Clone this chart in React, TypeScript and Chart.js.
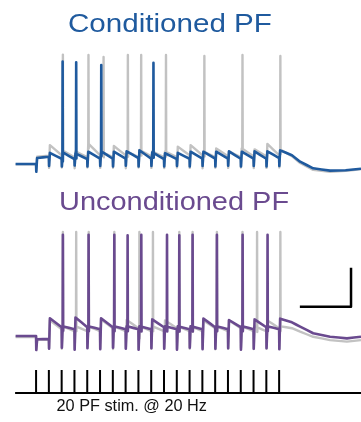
import React, { useEffect, useRef } from "react";
import { Chart, registerables } from "chart.js";

Chart.register(...registerables);

// ---- time base (ms) ----
const stimTimes = [0, 50, 100, 150, 200, 250, 300, 350, 400, 450, 500, 550, 600, 650, 700, 750, 800, 850, 900, 950];
const traceStart = -80;

// ---- Conditioned PF (blue) , mV ----
const condBaseline = -65;
const condDips = [-69.0, -66.0, -66.2, -65.8, -66.3, -66.0, -66.2, -65.9, -66.3, -66.0, -66.2, -66.0, -66.3, -66.0, -66.2, -65.9, -66.2, -66.0, -66.3, -66.0];
const condPeaks = [-61.9, -59.3, -59.0, -59.5, -58.7, -58.5, -58.7, -58.5, -58.0, -59.0, -59.5, -59.3, -58.7, -58.7, -58.7, -58.5, -58.7, -58.5, -58.5, -58.0];
const condTroughs = [-61.3, -62.3, -62.5, -62.5, -62.3, -62.3, -62.3, -62.0, -62.3, -62.5, -62.5, -62.3, -62.3, -62.3, -62.3, -62.3, -62.3, -62.3, -62.0];
const condSpikeTimes = [103, 156, 254, 458];
const condSpikePeaks = [-12.5, -12.8, -14.2, -13.1];
const condTailTimes = [1000, 1032, 1083, 1149, 1210, 1270];
const condTailValues = [-60.5, -63.8, -67.2, -68.4, -68.2, -67.4];

// ---- Conditioned PF (grey, control) ----
const condCtlBaseline = -65.2;
const condCtlDips = [-68.5, -67.0, -66.8, -67.2, -66.8, -67.0, -66.9, -67.2, -66.8, -67.0, -67.1, -66.8, -67.0, -67.2, -66.9, -67.0, -66.8, -67.1, -67.0, -66.8];
const condCtlPeaks = [-61.3, -55.3, -58.0, -58.5, -54.5, -58.5, -55.8, -58.5, -57.8, -58.5, -58.5, -56.1, -55.3, -58.5, -57.0, -58.5, -57.0, -57.5, -54.7, -57.5];
const condCtlTroughs = [-60.8, -60.5, -61.5, -61.5, -60.5, -61.5, -60.5, -61.5, -61.0, -61.5, -61.5, -60.5, -60.5, -61.5, -61.0, -61.5, -61.0, -61.0, -60.5];
const condCtlSpikeTimes = [104, 204, 263, 358, 410, 507, 657, 806, 954];
const condCtlSpikePeaks = [-8.9, -9.1, -10.1, -9.1, -9.1, -9.1, -9.6, -9.1, -9.6];
const condCtlTailTimes = [1000, 1032, 1083, 1149, 1210, 1270];
const condCtlTailValues = [-61.0, -64.5, -68.0, -69.0, -68.5, -67.6];

// ---- Unconditioned PF (purple) ----
const uncBaseline = -65.5;
const uncDips = [-72.7, -72.0, -71.5, -72.5, -71.8, -72.3, -71.5, -72.0, -72.5, -71.8, -72.0, -72.5, -71.5, -72.3, -72.0, -71.8, -72.5, -72.0, -71.8, -72.3];
const uncPeaks = [-67.2, -56.4, -60.5, -56.0, -60.5, -56.4, -60.5, -60.5, -60.5, -57.0, -60.5, -60.5, -60.5, -56.5, -60.5, -57.3, -60.5, -57.0, -60.5, -56.6];
const uncTroughs = [-67.0, -61.0, -62.0, -61.0, -62.0, -61.0, -62.0, -62.0, -62.0, -61.0, -62.0, -62.0, -62.0, -61.0, -62.0, -61.0, -62.0, -61.0, -62.0];
const uncSpikeTimes = [104, 204.5, 305, 357, 410.5, 511, 559, 611, 706, 806.5, 904];
const uncSpikePeaks = [-13.6, -13.6, -13.6, -13.8, -13.6, -13.6, -13.8, -13.6, -13.6, -13.6, -13.6];
const uncTailTimes = [1000, 1032, 1083, 1149, 1215, 1270];
const uncTailValues = [-58.5, -60.7, -64.1, -65.9, -66.7, -65.9];

// ---- Unconditioned PF (grey, control) ----
const uncCtlBaseline = -66.0;
const uncCtlDips = [-72.5, -71.8, -72.0, -72.3, -71.6, -72.0, -72.2, -71.8, -72.3, -72.0, -71.7, -72.2, -72.0, -71.8, -72.3, -72.0, -71.7, -72.2, -72.0, -72.1];
const uncCtlPeaks = [-67.5, -57.5, -60.5, -60.5, -60.5, -57.0, -60.5, -57.3, -60.5, -60.5, -57.5, -60.5, -60.5, -57.5, -60.5, -57.5, -60.5, -60.5, -57.5, -60.5];
const uncCtlTroughs = [-67.5, -62.0, -63.0, -63.0, -63.0, -61.5, -63.0, -61.5, -63.0, -63.0, -61.5, -63.0, -63.0, -61.5, -63.0, -61.5, -63.0, -63.0, -61.5];
const uncCtlSpikeTimes = [104, 156, 205, 305, 403, 456, 559, 611, 706, 806, 863, 954];
const uncCtlSpikePeaks = [-12.2, -12.2, -12.2, -12.2, -12.2, -12.2, -12.2, -12.2, -12.2, -12.2, -12.2, -12.2];
const uncCtlTailTimes = [1000, 1032, 1083, 1149, 1215, 1270];
const uncCtlTailValues = [-61.5, -63.3, -65.9, -67.6, -68.4, -67.6];

// ---- scale bar (200 ms, 20 mV) ----
const scaleBarTimeStart = 1031;
const scaleBarTimeLength = 200;
const scaleBarBase = -50.5;
const scaleBarMv = 20;

// ---- stimulus raster ----
const stimAxisStart = -82;
const stimAxisEnd = 1270;

const BLUE = "#1f5a9e";
const PURPLE = "#6a4a8f";
const GREY = "#c2c2c2";

type P = { x: number; y: number | null };

function buildTrace(
  baseline: number,
  dips: number[],
  peaks: number[],
  troughs: number[],
  spikeT: number[],
  spikeV: number[],
  tailT: number[],
  tailV: number[]
): P[] {
  let pts: { x: number; y: number }[] = [{ x: traceStart, y: baseline }];
  stimTimes.forEach((s, i) => {
    const prev = i === 0 ? baseline : troughs[i - 1];
    pts.push({ x: s, y: prev });
    pts.push({ x: s + 0.8, y: dips[i] });
    pts.push({ x: s + 4, y: peaks[i] });
  });
  tailT.forEach((t, i) => pts.push({ x: t, y: tailV[i] }));

  const valueAt = (arr: { x: number; y: number }[], t: number) => {
    for (let k = 0; k < arr.length - 1; k++) {
      if (arr[k].x <= t && arr[k + 1].x >= t) {
        const a = arr[k], b = arr[k + 1];
        const f = b.x === a.x ? 0 : (t - a.x) / (b.x - a.x);
        return a.y + f * (b.y - a.y);
      }
    }
    return arr[arr.length - 1].y;
  };

  const extra: { x: number; y: number }[] = [];
  spikeT.forEach((ts, i) => {
    const foot = valueAt(pts, ts);
    const after = valueAt(pts, ts + 2.2);
    extra.push({ x: ts, y: foot });
    extra.push({ x: ts + 0.8, y: spikeV[i] });
    extra.push({ x: ts + 1.7, y: foot - 2.5 });
    extra.push({ x: ts + 2.2, y: after });
  });
  const base = pts.filter((p) => !spikeT.some((ts) => p.x >= ts && p.x <= ts + 2.2));
  return base.concat(extra).sort((a, b) => a.x - b.x);
}

function buildStimTicks(): P[] {
  const out: P[] = [];
  stimTimes.forEach((s) => {
    out.push({ x: s, y: 0 });
    out.push({ x: s, y: 1 });
    out.push({ x: s + 0.01, y: null });
  });
  return out;
}

const W = 361;
const H = 422;

export default function App() {
  const ref = useRef<HTMLCanvasElement | null>(null);

  useEffect(() => {
    if (!ref.current) return;
    const line = (data: P[], color: string, axis: string, width: number, order: number) => ({
      data,
      borderColor: color,
      backgroundColor: color,
      borderWidth: width,
      pointRadius: 0,
      tension: 0.0001,
      fill: false,
      spanGaps: false,
      borderJoinStyle: "round" as const,
      borderCapStyle: "butt" as const,
      yAxisID: axis,
      order,
    });

    const chart = new Chart(ref.current, {
      type: "line",
      data: {
        datasets: [
          line(buildTrace(condBaseline, condDips, condPeaks, condTroughs, condSpikeTimes, condSpikePeaks, condTailTimes, condTailValues), BLUE, "yC", 2.6, 0),
          line(buildTrace(uncBaseline, uncDips, uncPeaks, uncTroughs, uncSpikeTimes, uncSpikePeaks, uncTailTimes, uncTailValues), PURPLE, "yU", 2.6, 0),
          line(buildTrace(condCtlBaseline, condCtlDips, condCtlPeaks, condCtlTroughs, condCtlSpikeTimes, condCtlSpikePeaks, condCtlTailTimes, condCtlTailValues), GREY, "yC", 2.4, 1),
          line(buildTrace(uncCtlBaseline, uncCtlDips, uncCtlPeaks, uncCtlTroughs, uncCtlSpikeTimes, uncCtlSpikePeaks, uncCtlTailTimes, uncCtlTailValues), GREY, "yU", 2.4, 1),
          line(
            [
              { x: scaleBarTimeStart, y: scaleBarBase },
              { x: scaleBarTimeStart + scaleBarTimeLength, y: scaleBarBase },
              { x: scaleBarTimeStart + scaleBarTimeLength, y: scaleBarBase + scaleBarMv },
            ],
            "#000000",
            "yU",
            2.5,
            0
          ),
          line(buildStimTicks(), "#000000", "yS", 2, 0),
          line(
            [
              { x: stimAxisStart, y: 0 },
              { x: stimAxisEnd, y: 0 },
            ],
            "#000000",
            "yS",
            2,
            0
          ),
        ],
      },
      options: {
        responsive: false,
        animation: false,
        devicePixelRatio: 1,
        parsing: false,
        layout: { padding: 0, autoPadding: false },
        plugins: { legend: { display: false }, tooltip: { enabled: false }, title: { display: false } },
        events: [],
        scales: {
          x: { type: "linear", min: -141, max: 1270, display: false },
          yC: { type: "linear", min: -197.3, max: 19.1, display: false },
          yU: { type: "linear", min: -109.6, max: 106.8, display: false },
          yS: { type: "linear", min: -1.261, max: 17.087, display: false },
        },
      } as any,
    });
    return () => chart.destroy();
  }, []);

  const font = '"Liberation Sans", Arial, Helvetica, sans-serif';
  return (
    <div style={{ position: "fixed", left: 0, top: 0, width: W, height: H, background: "#fff", overflow: "hidden" }}>
      <canvas ref={ref} width={W} height={H} style={{ position: "absolute", left: 0, top: 0, width: W, height: H, display: "block" }} />
      <div
        style={{
          position: "absolute", left: 68, top: 10.7, fontFamily: font, fontSize: 25.5, lineHeight: "25.5px",
          color: BLUE, whiteSpace: "nowrap", transform: "scaleX(1.16)", transformOrigin: "0 0",
        }}
      >
        Conditioned PF
      </div>
      <div
        style={{
          position: "absolute", left: 59, top: 189.4, fontFamily: font, fontSize: 25.5, lineHeight: "25.5px",
          color: PURPLE, whiteSpace: "nowrap", transform: "scaleX(1.135)", transformOrigin: "0 0",
        }}
      >
        Unconditioned PF
      </div>
      <div
        style={{
          position: "absolute", left: 56.5, top: 397, fontFamily: font, fontSize: 16.3, lineHeight: "16.3px",
          color: "#111", whiteSpace: "nowrap",
        }}
      >
        20 PF stim. @ 20 Hz
      </div>
    </div>
  );
}
